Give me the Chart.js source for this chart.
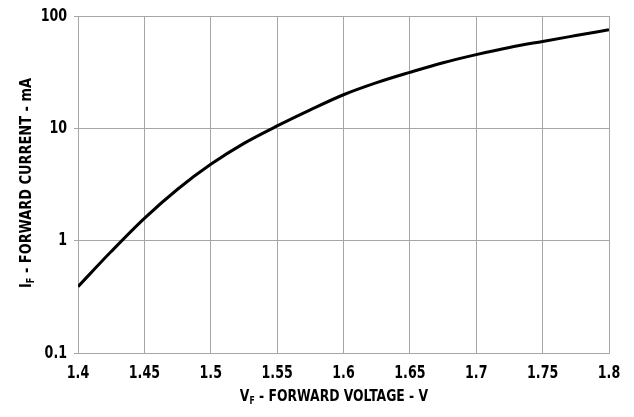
<!DOCTYPE html>
<html><head><meta charset="utf-8">
<script src="https://cdn.jsdelivr.net/npm/chart.js@4/dist/chart.umd.min.js"></script>
<style>html,body{margin:0;padding:0;background:#fff}#w{width:634px;height:417px}</style>
</head><body><div id="w"><canvas id="c" width="634" height="417"></canvas></div>
<script>
const voltage = [1.4,1.425,1.45,1.475,1.5,1.525,1.55,1.575,1.6,1.625,1.65,1.675,1.7,1.725,1.75,1.775,1.8];
const current = [0.39,0.80,1.58,2.87,4.78,7.35,10.5,14.6,19.9,25.5,31.5,38.4,45.3,52.5,59.4,67.0,75.5];
const xTicks = [1.4,1.45,1.5,1.55,1.6,1.65,1.7,1.75,1.8];
const xTickLabels = ['1.4','1.45','1.5','1.55','1.6','1.65','1.7','1.75','1.8'];
const yTicks = [0.1,1,10,100];
const yTickLabels = ['0.1','1','10','100'];
const xTitle = ['V','F',' - FORWARD VOLTAGE - V'];
const yTitle = ['I','F',' - FORWARD CURRENT - mA'];

const FONT = '"Liberation Sans Narrow","DejaVu Sans Condensed","DejaVu Sans",sans-serif';
const NARROW = 0.78;

function drawSubTitle(ctx, parts, size){
  const small = Math.round(size*0.64);
  ctx.font = 'bold '+size+'px '+FONT;
  const w0 = ctx.measureText(parts[0]).width;
  ctx.font = 'bold '+small+'px '+FONT;
  const w1 = ctx.measureText(parts[1]).width;
  ctx.font = 'bold '+size+'px '+FONT;
  const w2 = ctx.measureText(parts[2]).width;
  const total = w0+w1+w2;
  let x = -total/2;
  ctx.textBaseline='alphabetic'; ctx.textAlign='left';
  ctx.fillText(parts[0], x, size*0.36); x+=w0;
  ctx.font = 'bold '+small+'px '+FONT;
  ctx.fillText(parts[1], x, size*0.36+size*0.2); x+=w1;
  ctx.font = 'bold '+size+'px '+FONT;
  ctx.fillText(parts[2], x, size*0.36);
}

const labels = {
  id:'labels',
  afterDraw(chart){
    const ctx = chart.ctx, a = chart.chartArea;
    const xs = chart.scales.x, ys = chart.scales.y;
    ctx.save(); ctx.fillStyle='#000';
    ctx.font = 'bold 18px '+FONT;
    ctx.textBaseline='middle';
    ctx.textAlign='center';
    xTicks.forEach((v,i)=>{
      ctx.save();
      ctx.translate(xs.getPixelForValue(v), a.bottom+20);
      ctx.scale(NARROW,1);
      ctx.fillText(xTickLabels[i],0,0);
      ctx.restore();
    });
    ctx.textAlign='right';
    yTicks.forEach((v,i)=>{
      ctx.save();
      ctx.translate(a.left-11, ys.getPixelForValue(v));
      ctx.scale(NARROW,1);
      ctx.fillText(yTickLabels[i],0,0);
      ctx.restore();
    });
    ctx.restore();

    ctx.save(); ctx.fillStyle='#000';
    ctx.translate(334, 395);
    ctx.scale(0.86,1);
    drawSubTitle(ctx, xTitle, 16);
    ctx.restore();
    ctx.save(); ctx.fillStyle='#000';
    ctx.translate(25, 183);
    ctx.rotate(-Math.PI/2);
    ctx.scale(0.9,1);
    drawSubTitle(ctx, yTitle, 16);
    ctx.restore();
  }
};

new Chart(document.getElementById('c'), {
  type:'line',
  data:{datasets:[{
    data: voltage.map((v,i)=>({x:v,y:current[i]})),
    borderColor:'#000', borderWidth:3, pointRadius:0,
    cubicInterpolationMode:'monotone', fill:false
  }]},
  options:{
    responsive:false, animation:false, devicePixelRatio:1,
    layout:{padding:{left:0,right:25,top:16,bottom:0}},
    plugins:{legend:{display:false},tooltip:{enabled:false}},
    scales:{
      x:{type:'linear',min:1.4,max:1.8,
        afterBuildTicks(s){ s.ticks = xTicks.map(v=>({value:v})); },
        afterFit(s){ s.height = 64; },
        grid:{color:'#a6a6a6',lineWidth:1,drawTicks:false},
        border:{color:'#a6a6a6'},
        ticks:{display:false}
      },
      y:{type:'logarithmic',min:0.1,max:100,
        afterBuildTicks(s){ s.ticks = yTicks.map(v=>({value:v})); },
        afterFit(s){ s.width = 78; },
        grid:{color:'#a6a6a6',lineWidth:1,tickLength:4},
        border:{color:'#a6a6a6'},
        ticks:{display:false}
      }
    }
  },
  plugins:[labels]
});
</script></body></html>
